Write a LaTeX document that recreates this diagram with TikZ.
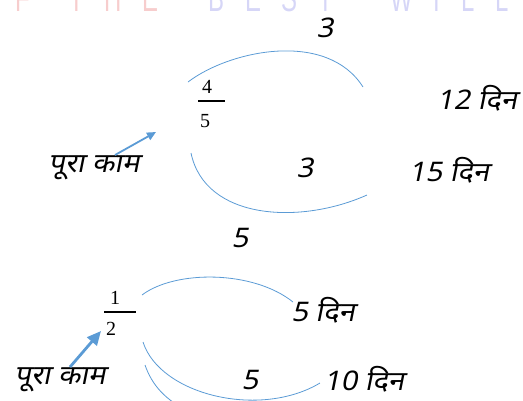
\documentclass[tikz,border=0pt]{standalone}
\usepackage{fontspec}
\usetikzlibrary{arrows.meta}
\newfontfamily\hindi[Script=Devanagari,FakeSlant=0.2,FakeStretch=1.08]{Noto Sans}
\newfontfamily\wmfont[FakeStretch=0.63,LetterSpace=55]{Liberation Sans}
\newfontfamily\fracfont{Liberation Serif}
\definecolor{arcblue}{HTML}{5B9BD5}
\definecolor{wmpink}{HTML}{F7CDCD}
\definecolor{wmlav}{HTML}{D6D6F7}
\begin{document}
\begin{tikzpicture}[
		x=1pt, y=-1pt,
		hw/.style={font=\hindi\fontsize{27}{30}\selectfont, inner sep=0pt},
		fracnum/.style={font=\fracfont\fontsize{20}{22}\selectfont, inner sep=0pt},
		fracbar/.style={draw=black, line width=1.3pt},
		wm/.style={font=\wmfont\fontsize{38}{38}\selectfont, anchor=base west, inner sep=0pt},
		arcline/.style={draw=arcblue, line width=0.8pt},
		pointer/.style={draw=arcblue, line width=#1, -{Triangle[length=5*#1,width=4.5*#1]}}
	]
	\useasboundingbox (0,0) rectangle (523,400);
	% watermark, cut by the page edge
	\node[wm, text=wmpink] (wmF) at (15,11) {F};
	\node[wm, text=wmpink] (wmThe) at (69,11) {THE};
	\node[wm, text=wmlav] (wmBest) at (208,11) {BEST};
	\node[wm, text=wmlav] (wmWill) at (390,11) {WILL};

	% first diagram
	\node[hw] (topThree) at (325,28) {3};
	\node[fracnum] (n4) at (207,87) {4};
	\node[fracnum] (d5) at (205,121) {5};
	\coordinate (barAl) at (198,101);
	\coordinate (barAr) at (225,101);
	\draw[fracbar] (barAl) -- (barAr);
	\node[hw] (kaamA) at (94,168) {पूरा काम};
	\node[hw] (midThree) at (305,168) {3};
	\node[hw] (days12) at (477,98) {12 दिन};
	\node[hw] (days15) at (449,170) {15 दिन};
	\coordinate (arcAs) at (188,82);
	\coordinate (arcAe) at (363,87);
	\coordinate (arcBs) at (191,153);
	\coordinate (arcBe) at (367,195);
	\draw[arcline] (arcAs) .. controls (230,50) and (327,30) .. (arcAe);
	\draw[arcline] (arcBs) .. controls (205,220) and (300,225) .. (arcBe);
	\coordinate (ptrAs) at (115,155);
	\coordinate (ptrAe) at (156,132);
	\draw[pointer=1.8pt] (ptrAs) -- (ptrAe);

	% second diagram
	\node[hw] (topFive) at (240,238) {5};
	\node[fracnum] (n1) at (115,298) {1};
	\node[fracnum] (d2) at (111,329) {2};
	\coordinate (barBl) at (104,312);
	\coordinate (barBr) at (136,312);
	\draw[fracbar] (barBl) -- (barBr);
	\node[hw] (days5) at (323,310) {5 दिन};
	\node[hw] (kaamB) at (60,380) {पूरा काम};
	\node[hw] (lowFive) at (250,380) {5};
	\node[hw] (days10) at (364,379) {10 दिन};
	\coordinate (arcCs) at (142,295);
	\coordinate (arcCe) at (293,302);
	\coordinate (arcDs) at (143,342);
	\coordinate (arcDe) at (320,383);
	\coordinate (arcEs) at (145,365);
	\coordinate (arcEe) at (190,412);
	\draw[arcline] (arcCs) .. controls (175,270) and (253,270) .. (arcCe);
	\draw[arcline] (arcDs) .. controls (160,395) and (260,419) .. (arcDe);
	\draw[arcline] (arcEs) .. controls (152,385) and (165,400) .. (arcEe);
	\coordinate (ptrBs) at (70,367);
	\coordinate (ptrBe) at (101,331);
	\draw[pointer=2.8pt] (ptrBs) -- (ptrBe);
\end{tikzpicture}
\end{document}
